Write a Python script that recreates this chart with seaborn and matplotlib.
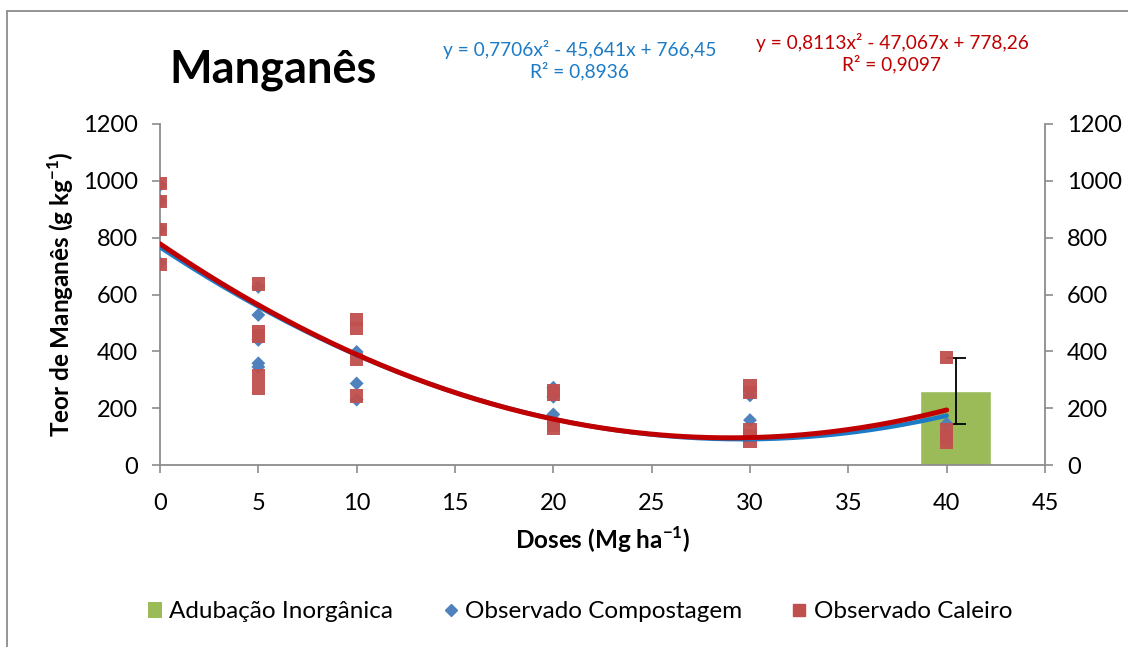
import numpy as np
import pandas as pd
import matplotlib
matplotlib.use("Agg")
import matplotlib.pyplot as plt
from matplotlib.lines import Line2D
from matplotlib.patches import Patch
import seaborn as sns

# Observed manganese contents per dose (Mg ha-1)
comp_dose = [0, 0, 0, 0, 5, 5, 5, 5, 5, 10, 10, 10, 20, 20, 20, 30, 30, 40]
comp_teor = [985, 930, 830, 710, 627, 528, 440, 358, 345, 398, 287, 230,
             272, 240, 178, 245, 158, 145]

cal_dose = [0, 0, 0, 0, 5, 5, 5, 5, 5, 10, 10, 10, 10, 20, 20, 20, 20,
            30, 30, 30, 30, 30, 40, 40, 40, 40]
cal_teor = [990, 928, 830, 707, 637, 471, 454, 315, 268, 512, 480, 370, 243,
            262, 250, 140, 127, 280, 255, 125, 105, 82, 378, 125, 100, 80]

# Quadratic fits: a*x^2 + b*x + c
comp_coef = [0.7706, -45.641, 766.45]
cal_coef = [0.8113, -47.067, 778.26]
comp_eq = "y = 0,7706x² - 45,641x + 766,45\nR² = 0,8936"
cal_eq = "y = 0,8113x² - 47,067x + 778,26\nR² = 0,9097"

# Inorganic fertilisation reference
inorg_dose = [40]
inorg_teor = [260]
inorg_err = [117]

x_ticks = [0, 5, 10, 15, 20, 25, 30, 35, 40, 45]
y_ticks = [0, 200, 400, 600, 800, 1000, 1200]

sns.set_theme(style="white")
plt.rcParams["font.family"] = ["Lato", "DejaVu Sans"]
plt.rcParams["mathtext.fontset"] = "custom"
plt.rcParams["mathtext.rm"] = "Lato"
plt.rcParams["mathtext.bf"] = "Lato:bold"
plt.rcParams["text.color"] = "black"
plt.rcParams["axes.labelcolor"] = "black"
plt.rcParams["xtick.labelcolor"] = "black"
plt.rcParams["ytick.labelcolor"] = "black"

BLUE_MK = "#4F81BD"
RED_MK = "#C0504D"
GREEN = "#9BBB59"
BLUE_LN = "#1B7BC6"
RED_LN = "#C00000"
GRAY = "#8C8C8C"

fig = plt.figure(figsize=(11.28, 6.47), dpi=100)
ax = fig.add_axes([160 / 1128, 1 - 465 / 647, (1045 - 160) / 1128, (465 - 124) / 647])
ax2 = ax.twinx()

# Bar with error bar on the secondary axis
ax2.bar([d + 0.45 for d in inorg_dose], inorg_teor, width=3.6, color=GREEN,
        yerr=inorg_err, error_kw=dict(ecolor="black", elinewidth=1.3,
                                      capsize=7, capthick=1.3), zorder=1)
ax2.set_ylim(0, 1200)
ax2.set_yticks(y_ticks)

ax.set_zorder(ax2.get_zorder() + 1)
ax.patch.set_visible(False)

comp_df = pd.DataFrame({"dose": comp_dose, "teor": comp_teor})
cal_df = pd.DataFrame({"dose": cal_dose, "teor": cal_teor})

xs = np.linspace(0, 40, 200)
fit_df = pd.DataFrame({
    "dose": np.concatenate([xs, xs]),
    "teor": np.concatenate([np.polyval(comp_coef, xs), np.polyval(cal_coef, xs)]),
    "serie": ["comp"] * len(xs) + ["cal"] * len(xs),
})

sns.scatterplot(data=comp_df, x="dose", y="teor", marker="D", s=50,
                color=BLUE_MK, edgecolor="none", ax=ax, zorder=3)
sns.scatterplot(data=cal_df, x="dose", y="teor", marker="s", s=90,
                color=RED_MK, edgecolor="none", alpha=0.95, ax=ax, zorder=4)
sns.lineplot(data=fit_df[fit_df.serie == "comp"], x="dose", y="teor",
             color=BLUE_LN, lw=3.2, ax=ax, zorder=5)
sns.lineplot(data=fit_df[fit_df.serie == "cal"], x="dose", y="teor",
             color=RED_LN, lw=3.6, ax=ax, zorder=6)

ax.set_xlim(0, 45)
ax.set_ylim(0, 1200)
ax.set_xticks(x_ticks)
ax.set_yticks(y_ticks)

for a in (ax, ax2):
    for side in ("left", "right", "bottom", "top"):
        a.spines[side].set_visible(False)
    a.tick_params(axis="both", which="major", labelsize=17, length=6,
                  width=1.2, color=GRAY, direction="out", pad=10)
ax.tick_params(axis="x", pad=14)
ax.spines["left"].set_visible(True)
ax.spines["bottom"].set_visible(True)
ax2.spines["right"].set_visible(True)
for sp in (ax.spines["left"], ax.spines["bottom"], ax2.spines["right"]):
    sp.set_color(GRAY)
    sp.set_linewidth(1.3)
ax.tick_params(left=True, bottom=True, right=False)
ax2.tick_params(right=True, left=False, bottom=False)

ax.set_xlabel("Doses (Mg ha$^{\\mathbf{-1}}$)", fontsize=17.5, fontweight="bold", labelpad=8)
ax.set_ylabel("Teor de Manganês (g kg$^{\\mathbf{-1}}$)", fontsize=17.5,
              fontweight="bold", labelpad=5)

fig.text(169 / 1128, 1 - 70 / 647, "Manganês", fontsize=32.5, fontweight="bold",
         ha="left", va="center")
fig.text(580 / 1128, 1 - 60 / 647, comp_eq, fontsize=13.8, color=BLUE_LN,
         ha="center", va="center", linespacing=1.2)
fig.text(892 / 1128, 1 - 53 / 647, cal_eq, fontsize=13.8, color=RED_LN,
         ha="center", va="center", linespacing=1.2)

handles = [
    Patch(facecolor=GREEN, edgecolor="none"),
    Line2D([], [], marker="D", ls="none", color=BLUE_MK, markersize=6),
    Line2D([], [], marker="s", ls="none", color=RED_MK, markersize=9),
]
labels = ["Adubação Inorgânica", "Observado Compostagem", "Observado Caleiro"]
fig.legend(handles, labels, loc="center", bbox_to_anchor=(580 / 1128, 1 - 612 / 647),
           ncol=3, frameon=False, fontsize=17.5, handlelength=0.6,
           handleheight=0.6, handletextpad=0.3, columnspacing=2.05)

# Chart area frame
fig.add_artist(Line2D([7 / 1128, 7 / 1128], [0, 1 - 11 / 647], color=GRAY, lw=1.3,
                      transform=fig.transFigure))
fig.add_artist(Line2D([7 / 1128, 1], [1 - 11 / 647, 1 - 11 / 647], color=GRAY, lw=1.3,
                      transform=fig.transFigure))

fig.savefig("out.png", dpi=100)
